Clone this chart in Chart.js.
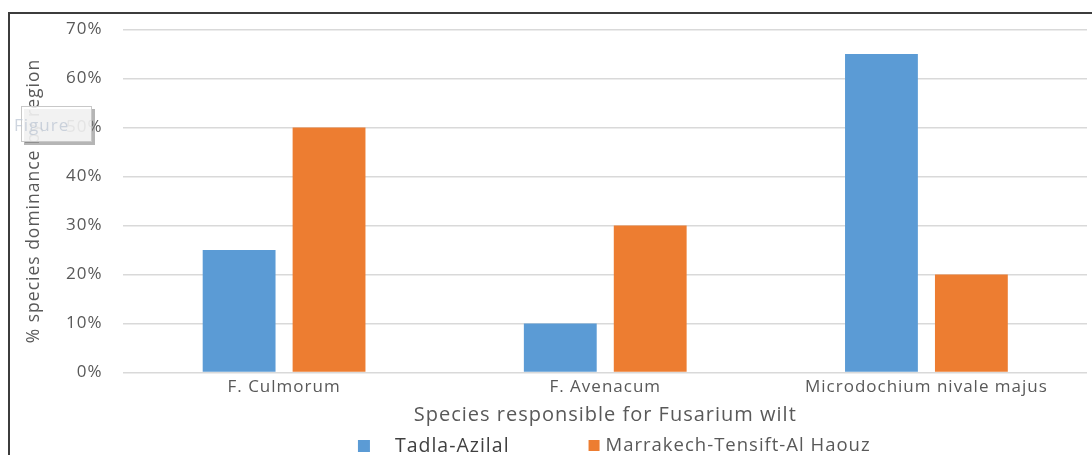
<!DOCTYPE html>
<html>
<head>
<meta charset="utf-8">
<script src="https://cdn.jsdelivr.net/npm/chart.js@4/dist/chart.umd.min.js"></script>
<style>
  html, body { margin: 0; padding: 0; background: #fff; }
  #wrap { position: relative; width: 1092px; height: 455px; }
  #chart { position: absolute; left: 0; top: 0; }
  #frame {
    position: absolute; left: 8px; top: 12px; right: 0; bottom: 0;
    border-left: 2px solid #3c3c3c; border-top: 2px solid #3c3c3c;
    pointer-events: none;
  }
</style>
</head>
<body>
<div id="wrap">
  <canvas id="chart" width="1092" height="455"></canvas>
  <div id="frame"></div>
</div>
<script>
// Species and regional dominance (%)
const species = ['F. Culmorum', 'F. Avenacum', 'Microdochium nivale majus'];
const tadlaAzilal = [25, 10, 65];
const marrakechTensift = [50, 30, 20];
const yTicks = [0, 10, 20, 30, 40, 50, 60, 70];

const FONT = "'Open Sans', 'DejaVu Sans', sans-serif";
const GREY = '#595959';

// Slightly open letter spacing for every label on the canvas
const spacing = {
  id: 'spacing',
  beforeUpdate(chart) { chart.ctx.letterSpacing = '1px'; },
  beforeDraw(chart) { chart.ctx.letterSpacing = '1px'; }
};

// Legend drawn under the axis title, centred on the plot area
const bottomLegend = {
  id: 'bottomLegend',
  afterDraw(chart) {
    const ctx = chart.ctx;
    const ds = chart.data.datasets;
    const area = chart.chartArea;
    const y = 446;
    ctx.save();
    ctx.letterSpacing = '1px';
    ctx.textBaseline = 'middle';
    ctx.textAlign = 'left';
    const f1 = '500 19.5px ' + FONT;
    const f2 = '18.5px ' + FONT;
    ctx.font = f1; const w1 = ctx.measureText(ds[0].label).width;
    ctx.font = f2; const w2 = ctx.measureText(ds[1].label).width;
    const box = 12, gap1 = 25, between = 79, gap2 = 5;
    const total = box + gap1 + w1 + between + box + gap2 + w2;
    let x = (area.left + area.right) / 2 + 9 - total / 2;
    ctx.fillStyle = ds[0].backgroundColor;
    ctx.fillRect(x, y - box / 2, box, box);
    x += box + gap1;
    ctx.font = f1; ctx.fillStyle = '#404040';
    ctx.fillText(ds[0].label, x, y);
    x += w1 + between;
    ctx.fillStyle = ds[1].backgroundColor;
    ctx.fillRect(x, y - box / 2, box - 1, box - 1);
    x += box + gap2;
    ctx.font = f2; ctx.fillStyle = GREY;
    ctx.fillText(ds[1].label, x, y);
    ctx.restore();
  }
};

// Small caption tag sitting over the y-axis title
const captionTag = {
  id: 'captionTag',
  beforeDatasetsDraw(chart) {
    const ctx = chart.ctx;
    ctx.save();
    ctx.fillStyle = 'rgba(120,120,120,0.55)';
    ctx.fillRect(24, 109, 71, 36);
    ctx.fillStyle = 'rgba(255,255,255,0.82)';
    ctx.fillRect(21, 106, 71, 36);
    ctx.strokeStyle = '#c8c8c8';
    ctx.lineWidth = 1;
    ctx.strokeRect(21.5, 106.5, 70, 35);
    ctx.font = '17px ' + FONT;
    ctx.fillStyle = 'rgba(185,195,210,0.7)';
    ctx.textBaseline = 'middle';
    ctx.fillText('Figure', 14, 126);
    ctx.restore();
  }
};

new Chart(document.getElementById('chart'), {
  type: 'bar',
  data: {
    labels: species,
    datasets: [
      { label: 'Tadla-Azilal', data: tadlaAzilal, backgroundColor: '#5b9bd5' },
      { label: 'Marrakech-Tensift-Al Haouz', data: marrakechTensift, backgroundColor: '#ed7d31' }
    ]
  },
  options: {
    responsive: false,
    animation: false,
    devicePixelRatio: 1,
    layout: { padding: { left: 15, top: 10, right: 5, bottom: 24 } },
    datasets: { bar: { categoryPercentage: 0.56, barPercentage: 0.81 } },
    plugins: { legend: { display: false }, tooltip: { enabled: false } },
    scales: {
      x: {
        grid: { display: false, drawTicks: false },
        border: { display: false },
        ticks: { color: GREY, font: { family: FONT, size: 17 }, padding: 4, maxRotation: 0 },
        title: {
          display: true, text: 'Species responsible for Fusarium wilt',
          color: GREY, font: { family: FONT, size: 20 }, padding: { top: 2, bottom: 4 }
        }
      },
      y: {
        min: 0, max: 70,
        afterBuildTicks(scale) { scale.ticks = yTicks.map(v => ({ value: v })); },
        grid: { color: '#d9d9d9', lineWidth: 1.5, drawTicks: false },
        border: { display: false },
        ticks: { color: GREY, font: { family: FONT, size: 17, lineHeight: 1 }, padding: 21, callback: v => v + '%' },
        title: {
          display: true, text: '% species dominance by region',
          color: GREY, font: { family: FONT, size: 17.5 }, padding: { top: 9, bottom: 0 }
        }
      }
    }
  },
  plugins: [spacing, captionTag, bottomLegend]
});
</script>
</body>
</html>
